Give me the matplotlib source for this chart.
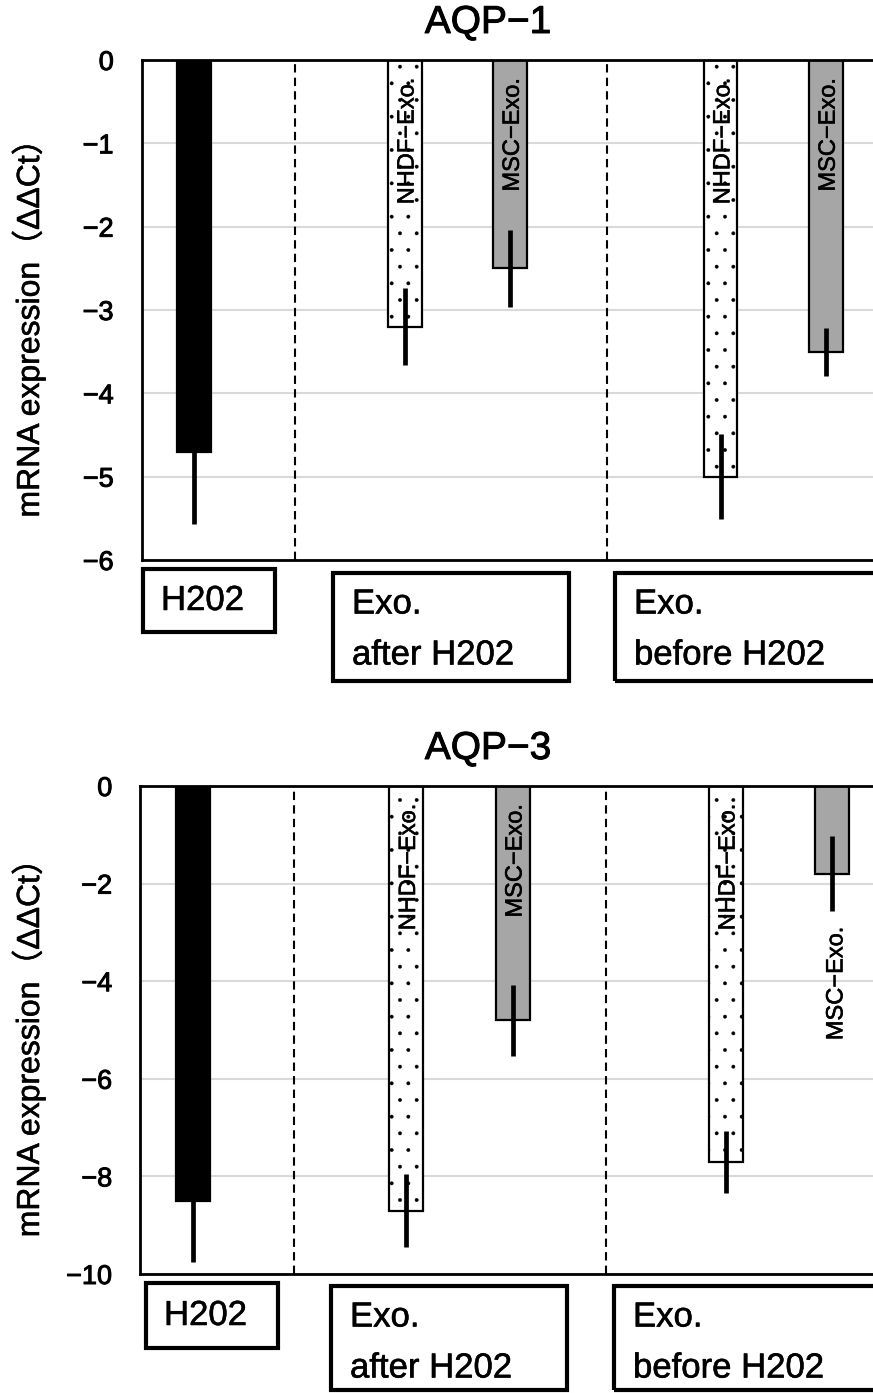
import matplotlib
matplotlib.use("Agg")
import matplotlib.pyplot as plt
from matplotlib.patches import Rectangle
import matplotlib.patheffects as pe

plt.rcParams['font.family'] = ['Liberation Sans', 'Noto Sans CJK JP', 'DejaVu Sans']
plt.rcParams['hatch.linewidth'] = 0.3

# ---------------- data ----------------
groups = ["H202", "Exo.\nafter H202", "Exo.\nbefore H202"]
bar_names = ["H202", "NHDF\u2212Exo.", "MSC\u2212Exo.", "NHDF\u2212Exo.", "MSC\u2212Exo."]
bar_pos = [0, 2, 3, 5, 6]

aqp1_vals = [-4.7, -3.2, -2.5, -5.0, -3.5]
aqp1_errs = [0.87, 0.46, 0.46, 0.51, 0.29]
aqp3_vals = [-8.5, -8.7, -4.8, -7.7, -1.8]
aqp3_errs = [1.25, 0.74, 0.73, 0.63, 0.77]

aqp1_ticks = [0, -1, -2, -3, -4, -5, -6]
aqp3_ticks = [0, -2, -4, -6, -8, -10]

titles = ["AQP\u22121", "AQP\u22123"]
ylabel = "mRNA expression\uff08\u0394\u0394Ct\uff09"

# ---------------- styles ----------------
W, H = 873, 1393
fig = plt.figure(figsize=(W / 100, H / 100), dpi=100)

face = ["black", "white", "#a6a6a6", "white", "#a6a6a6"]
hatch = [None, ".", None, ".", None]
heavy = [pe.withStroke(linewidth=0.7, foreground="black")]
medium = [pe.withStroke(linewidth=0.4, foreground="black")]


def fx(px):
    return px / W


def fy(py):
    return 1 - py / H


def panel(top_px, bot_px, left_px, unit_px, vals, errs, ticks, title,
          sep, boxes, label_below):
    right_px = left_px + 7 * unit_px
    ax = fig.add_axes([fx(left_px), fy(bot_px), fx(right_px - left_px),
                       (bot_px - top_px) / H])
    ax.set_xlim(-0.5, 6.5)
    ax.set_ylim(min(ticks), 0)
    ax.set_yticks(ticks)
    ax.set_yticklabels([("\u2212%d" % -t) if t < 0 else "0" for t in ticks])
    ax.set_xticks([])
    ax.tick_params(axis='y', length=0, pad=20, labelsize=19.5)
    for lab in ax.get_yticklabels():
        lab.set_path_effects(heavy)
    ax.yaxis.grid(True, color="#d9d9d9", lw=1.5, zorder=0)
    ax.set_axisbelow(True)
    for s in ax.spines.values():
        s.set_linewidth(2.0)
    for xs in sep:
        ax.axvline(xs, color="black", ls=(0, (4, 2.5)), lw=1.5, zorder=1)

    bars = ax.bar(bar_pos, vals, width=0.32, color=face, edgecolor="black",
                  linewidth=1.6, zorder=2)
    for b, h in zip(bars, hatch):
        if h:
            b.set_hatch(h)
    ax.errorbar(bar_pos, vals, yerr=errs, fmt="none", ecolor="black",
                elinewidth=3.4, capsize=0, zorder=4)

    for i, (x, name) in enumerate(zip(bar_pos, bar_names)):
        if i == 0:
            continue
        if label_below and i == 4:
            a = ax.annotate(name, (x, vals[i] - errs[i]), xytext=(3, -11),
                            textcoords="offset points", rotation=90,
                            ha="center", va="top", fontsize=17, zorder=5)
        else:
            a = ax.annotate(name, (x, 0), xytext=(2, -13),
                            textcoords="offset points", rotation=90,
                            ha="center", va="top", fontsize=17, zorder=5)
        a.set_path_effects(medium)

    ax.set_ylabel(ylabel, fontsize=23)
    ax.yaxis.set_label_coords((46 - left_px) / (right_px - left_px), 0.48)
    ax.yaxis.label.set_path_effects(medium)

    t = fig.text(fx(488), fy(top_px - 37), title, ha="center", va="center",
                 fontsize=28)
    t.set_path_effects(heavy)

    # group label boxes
    for (l, r, tp, bb) in boxes:
        fig.patches.append(Rectangle((fx(l), fy(bb)), fx(r - l), (bb - tp) / H,
                                     transform=fig.transFigure, fill=False,
                                     edgecolor="black", lw=3.0))
    (l, r, tp, bb) = boxes[0]
    tx = fig.text(fx(l + 18), fy((tp + bb) / 2), groups[0], ha="left",
                  va="center", fontsize=25)
    tx.set_path_effects(medium)
    for (l, r, tp, bb), txt in zip(boxes[1:], groups[1:]):
        lines = txt.split("\n")
        for k, line in enumerate(lines):
            tx = fig.text(fx(l + 19), fy(tp + 31 + 51 * k), line, ha="left",
                          va="center", fontsize=25)
            tx.set_path_effects(medium)
    return ax


# top panel
panel(60, 560, 141.5, 105.3, aqp1_vals, aqp1_errs, aqp1_ticks, titles[0],
      [0.96, 3.92],
      [(143, 275, 569, 632), (333, 569, 573, 681), (615, 900, 573, 681)],
      False)

# bottom panel
panel(786, 1274, 140, 106.5, aqp3_vals, aqp3_errs, aqp3_ticks, titles[1],
      [0.95, 3.88],
      [(146, 278, 1283, 1348), (331, 567, 1286, 1390), (614, 900, 1286, 1390)],
      True)

fig.savefig("out.png", dpi=100)
